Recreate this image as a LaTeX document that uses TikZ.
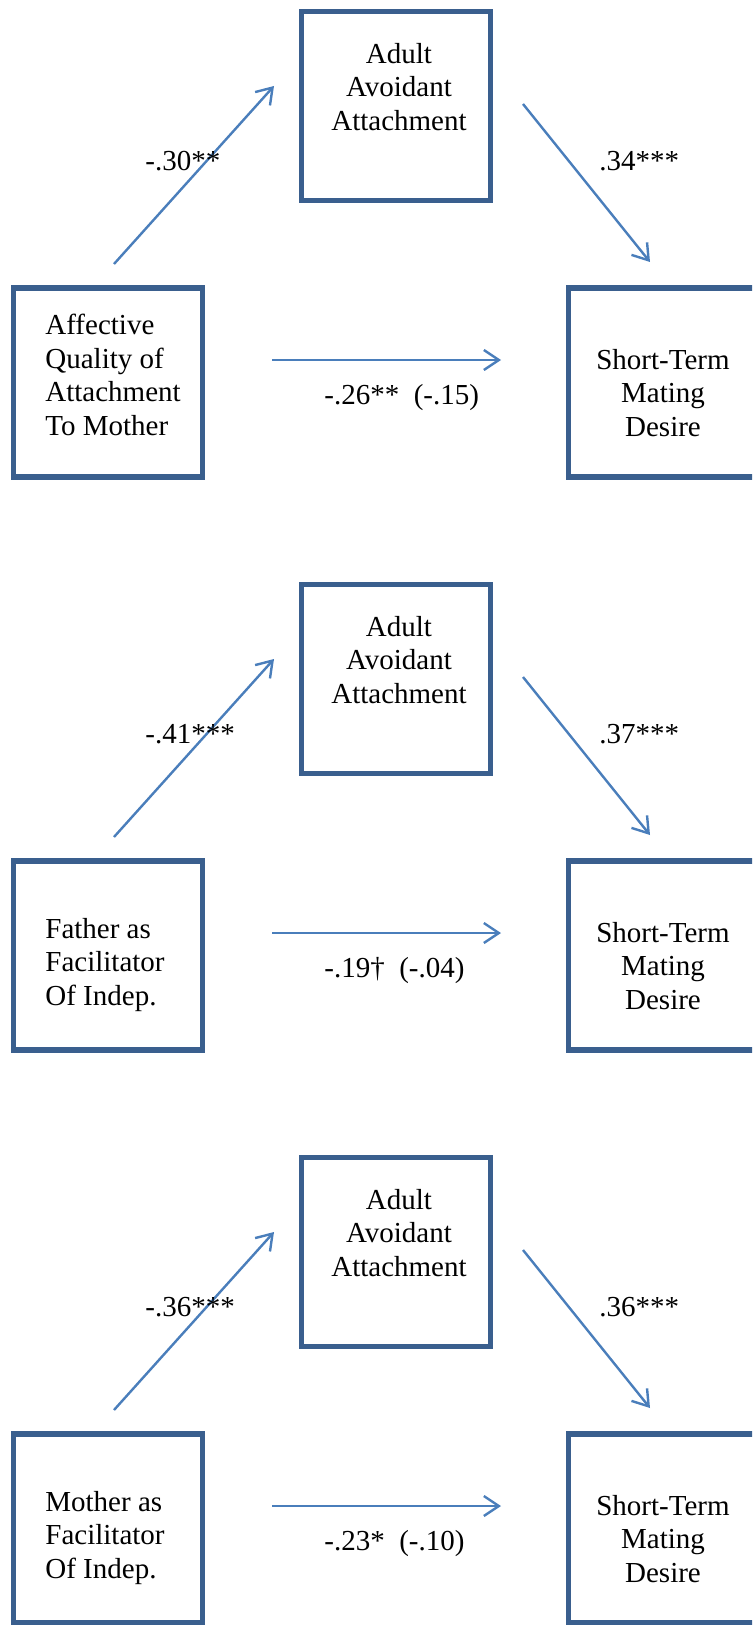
\documentclass[tikz,border=0pt]{standalone}
\usepackage{fontspec}
\setmainfont{Liberation Serif}
\usetikzlibrary{arrows.meta}
\definecolor{BoxBlue}{HTML}{3A5F8E}
\definecolor{ArrowBlue}{HTML}{4A7EBB}

\begin{document}
\begin{tikzpicture}[x=0.5pt, y=-0.5pt, >={Straight Barb[length=7.5pt,width=10pt]},
    box/.style={draw=BoxBlue, line width=2.6pt, inner sep=0pt,
      minimum width=94.5pt, minimum height=94.5pt},
    link/.style={->, draw=ArrowBlue, line width=1.2pt},
    txt/.style={font=\fontsize{14.5}{16.8}\selectfont, inner sep=0pt},
    coef/.style={txt, anchor=west}]
  \clip (0,0) rectangle (752,1625);
  \foreach \dy/\nm/\srcy/\srctext/\pa/\pb/\pc in {
      0/aff/375/{Affective\\Quality of\\Attachment\\To Mother}/{-.30**}/{.34***}/{-.26**~~(-.15)},
      573/fat/392/{Father as\\Facilitator\\Of Indep.}/{-.41***}/{.37***}/{-.19†~~(-.04)},
      1146/mot/392/{Mother as\\Facilitator\\Of Indep.}/{-.36***}/{.36***}/{-.23*~~(-.10)}}{
    \begin{scope}[yshift=-\dy*0.5pt]
      % boxes
      \node[box] (avoid\nm) at (396,106) {};
      \node[box] (src\nm) at (108,382.5) {};
      \node[box, minimum width=150pt, anchor=west] (mate\nm) at (566,382.5) {};
      \node[txt, align=center] (avoidT\nm) at (399,87) {Adult\\Avoidant\\Attachment};
      \node[txt, align=left, anchor=west] (srcT\nm) at (45,\srcy) {\srctext};
      \node[txt, align=center] (mateT\nm) at (663,393) {Short-Term\\Mating\\Desire};
      % paths
      \coordinate (a0\nm) at (114,264);
      \coordinate (a1\nm) at (274,86);
      \coordinate (b0\nm) at (523,104);
      \coordinate (b1\nm) at (650,262);
      \coordinate (c0\nm) at (272,360);
      \coordinate (c1\nm) at (501,360);
      \draw[link] (a0\nm) -- (a1\nm);
      \draw[link] (b0\nm) -- (b1\nm);
      \draw[link] (c0\nm) -- (c1\nm);
      \node[coef] (pa\nm) at (145,161) {\pa};
      \node[coef] (pb\nm) at (599,161) {\pb};
      \node[coef] (pc\nm) at (324,398) {\pc};
    \end{scope}
  }
\end{tikzpicture}
\end{document}
